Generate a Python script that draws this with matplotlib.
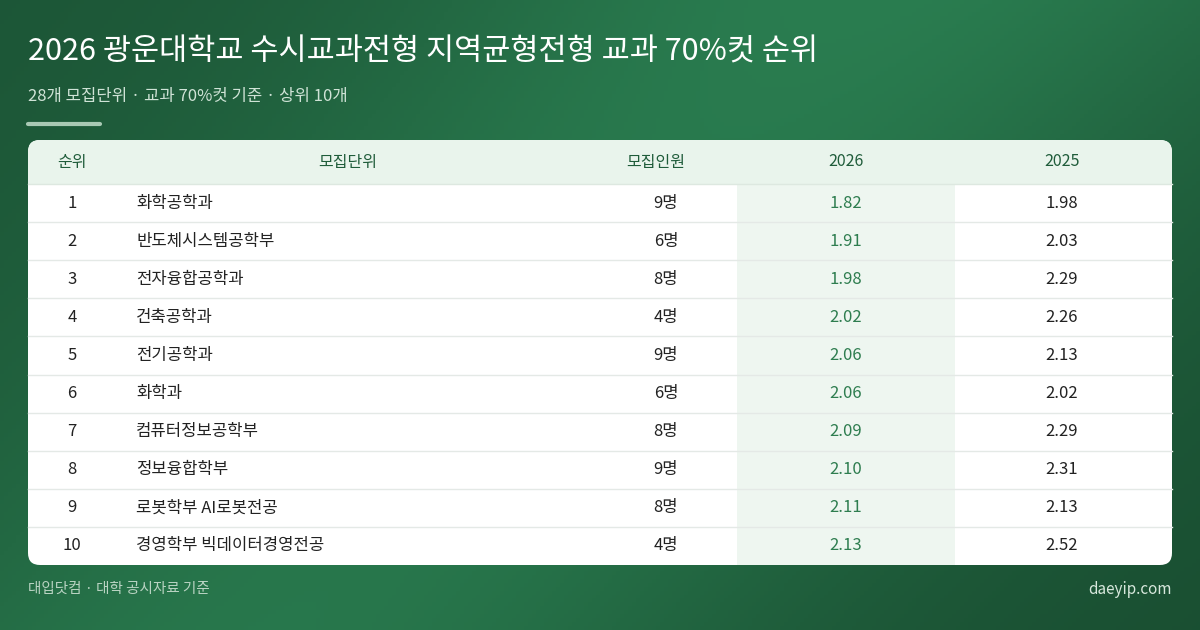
import matplotlib
matplotlib.use("Agg")
import matplotlib.pyplot as plt
import numpy as np
from matplotlib.patches import FancyBboxPatch, Rectangle

plt.rcParams['font.family'] = ['Noto Sans CJK KR', 'DejaVu Sans']

title = "2026 광운대학교 수시교과전형 지역균형전형 교과 70%컷 순위"
subtitle = "28개 모집단위 · 교과 70%컷 기준 · 상위 10개"
headers = ["순위", "모집단위", "모집인원", "2026", "2025"]
ranks = [1, 2, 3, 4, 5, 6, 7, 8, 9, 10]
units = ["화학공학과", "반도체시스템공학부", "전자융합공학과", "건축공학과", "전기공학과",
         "화학과", "컴퓨터정보공학부", "정보융합학부", "로봇학부 AI로봇전공", "경영학부 빅데이터경영전공"]
counts = ["9명", "6명", "8명", "4명", "9명", "6명", "8명", "9명", "8명", "4명"]
cut2026 = [1.82, 1.91, 1.98, 2.02, 2.06, 2.06, 2.09, 2.10, 2.11, 2.13]
cut2025 = [1.98, 2.03, 2.29, 2.26, 2.13, 2.02, 2.29, 2.31, 2.13, 2.52]
footer_left = "대입닷컴 · 대학 공시자료 기준"
footer_right = "daeyip.com"

W, H = 1200, 630
fig = plt.figure(figsize=(12, 6.3), dpi=100)
ax = fig.add_axes([0, 0, 1, 1])
ax.set_xlim(0, W); ax.set_ylim(H, 0); ax.axis('off')

# gradient background
c1 = np.array([0x1c, 0x55, 0x36]) / 255
c2 = np.array([0x2a, 0x7d, 0x50]) / 255
c3 = np.array([0x16, 0x45, 0x2b]) / 255
xx, yy = np.meshgrid(np.linspace(0, 1, 300), np.linspace(0, 1, 160))
t = (xx * 0.7 + yy * 0.3)
w = np.exp(-((t - 0.5) ** 2) / 0.08)
img = c1[None, None, :] * (1 - w[..., None]) + c2[None, None, :] * w[..., None]
img = img * (1 - 0.4 * (yy * xx)[..., None]) + c3[None, None, :] * 0.4 * (yy * xx)[..., None]
ax.imshow(img, extent=[0, W, H, 0], aspect='auto', zorder=0)

ax.text(28, 52, title, color='white', fontsize=22, fontweight='medium', va='center', ha='left')
ax.text(28, 97, subtitle, color='#cfe3d6', fontsize=12, va='center', ha='left')
ax.plot([28, 100], [124, 124], color='#a9c9b4', lw=3, solid_capstyle='round')

# card
L, R, T, B = 28, 1172, 140, 565
ax.add_patch(FancyBboxPatch((L, T), R - L, B - T, boxstyle="round,pad=0,rounding_size=12",
                            fc='white', ec='none', zorder=1))
hh = 44
# header background (clip to card by drawing rounded top)
hdr = FancyBboxPatch((L, T), R - L, hh + 14, boxstyle="round,pad=0,rounding_size=12",
                     fc='#e9f4ec', ec='none', zorder=2)
ax.add_patch(hdr)
ax.add_patch(Rectangle((L, T + hh), R - L, 14, fc='white', ec='none', zorder=2))
rh = (B - T - hh) / len(ranks)
ax.add_patch(Rectangle((737, T + hh), 955 - 737, B - T - hh, fc='#eef6f0', ec='none', zorder=2))

cx = [72, 136, 666, 846, 1062]
has = ['center', 'left', 'center', 'center', 'center']
hx = [72, 348, 656, 846, 1062]
for i, h in enumerate(headers):
    ax.text(hx[i], T + hh / 2, h, color='#1f5c3a', fontsize=11.5, ha='center', va='center', zorder=3)
ax.plot([L, R], [T + hh, T + hh], color='#dde8e0', lw=1, zorder=3)

for i in range(len(ranks)):
    yc = T + hh + rh * (i + 0.5)
    vals = [str(ranks[i]), units[i], counts[i], f"{cut2026[i]:.2f}", f"{cut2025[i]:.2f}"]
    for j, v in enumerate(vals):
        col = '#2e7d4f' if j == 3 else '#222222'
        ax.text(cx[j], yc, v, color=col, fontsize=12, ha=has[j], va='center', zorder=3)
    if i < len(ranks) - 1:
        yl = T + hh + rh * (i + 1)
        ax.plot([L, R], [yl, yl], color='#e4e9e6', lw=1, zorder=3)

ax.text(28, 589, footer_left, color='#b9d3c2', fontsize=10.5, ha='left', va='center')
ax.text(1172, 589, footer_right, color='#d8e8dd', fontsize=11, ha='right', va='center')

fig.savefig('out.png', dpi=100)
